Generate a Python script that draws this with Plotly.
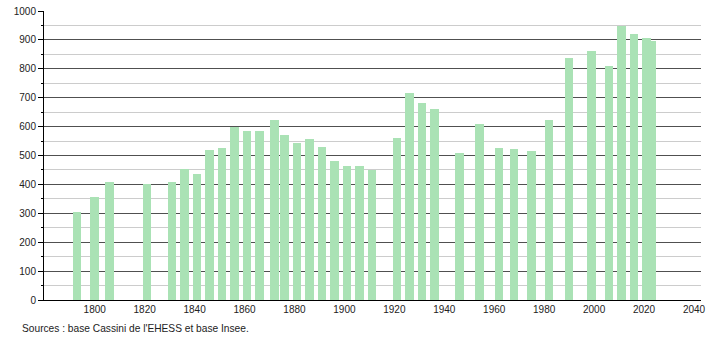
import plotly.graph_objects as go

years = [1793, 1800, 1806, 1821, 1831, 1836, 1841, 1846, 1851, 1856, 1861, 1866,
         1872, 1876, 1881, 1886, 1891, 1896, 1901, 1906, 1911, 1921, 1926, 1931,
         1936, 1946, 1954, 1962, 1968, 1975, 1982, 1990, 1999, 2006, 2011, 2016,
         2021, 2023]
population = [305, 357, 408, 403, 408, 454, 436, 519, 527, 597, 585, 585,
              623, 571, 544, 558, 530, 481, 464, 464, 450, 561, 715, 680,
              661, 509, 609, 526, 521, 516, 623, 839, 861, 808, 948, 922,
              906, 896]

x_ticks = list(range(1800, 2041, 20))
source_text = "Sources : base Cassini de l'EHESS et base Insee."

fig = go.Figure()
fig.add_trace(go.Bar(
    x=years, y=population, width=3.4,
    marker=dict(color="#aae2b5", line=dict(width=0)),
    hoverinfo="x+y",
))

fig.update_layout(
    width=710, height=340,
    margin=dict(l=44, r=9, t=11, b=40, autoexpand=False),
    paper_bgcolor="white", plot_bgcolor="white",
    showlegend=False,
    font=dict(family="Liberation Sans, Arial, sans-serif", size=10, color="#222"),
    bargap=0,
)
fig.update_xaxes(
    range=[1779.7, 2042.8], automargin=False,
    tickvals=x_ticks, ticktext=[str(v) for v in x_ticks],
    showgrid=False, zeroline=False,
    showline=True, linecolor="black", linewidth=1,
    ticks="", tickfont=dict(size=10, color="#222"),
)
fig.update_yaxes(
    range=[0, 1000], dtick=100, tick0=0, automargin=False,
    showgrid=True, gridcolor="#505050", gridwidth=1,
    zeroline=False,
    showline=True, linecolor="black", linewidth=1,
    ticks="outside", ticklen=5, tickcolor="black",
    tickfont=dict(size=10, color="#222"),
    minor=dict(dtick=50, tick0=0, ticks="outside", ticklen=2, tickcolor="black",
               showgrid=True, gridcolor="#cccccc", gridwidth=1),
)
fig.add_annotation(
    text=source_text, xref="paper", yref="paper",
    x=(20 - 44) / 656, y=(300.3 - 329) / 289,
    xanchor="left", yanchor="middle", showarrow=False,
    font=dict(size=10.2, color="#222"),
)

fig.write_html("out.html")
